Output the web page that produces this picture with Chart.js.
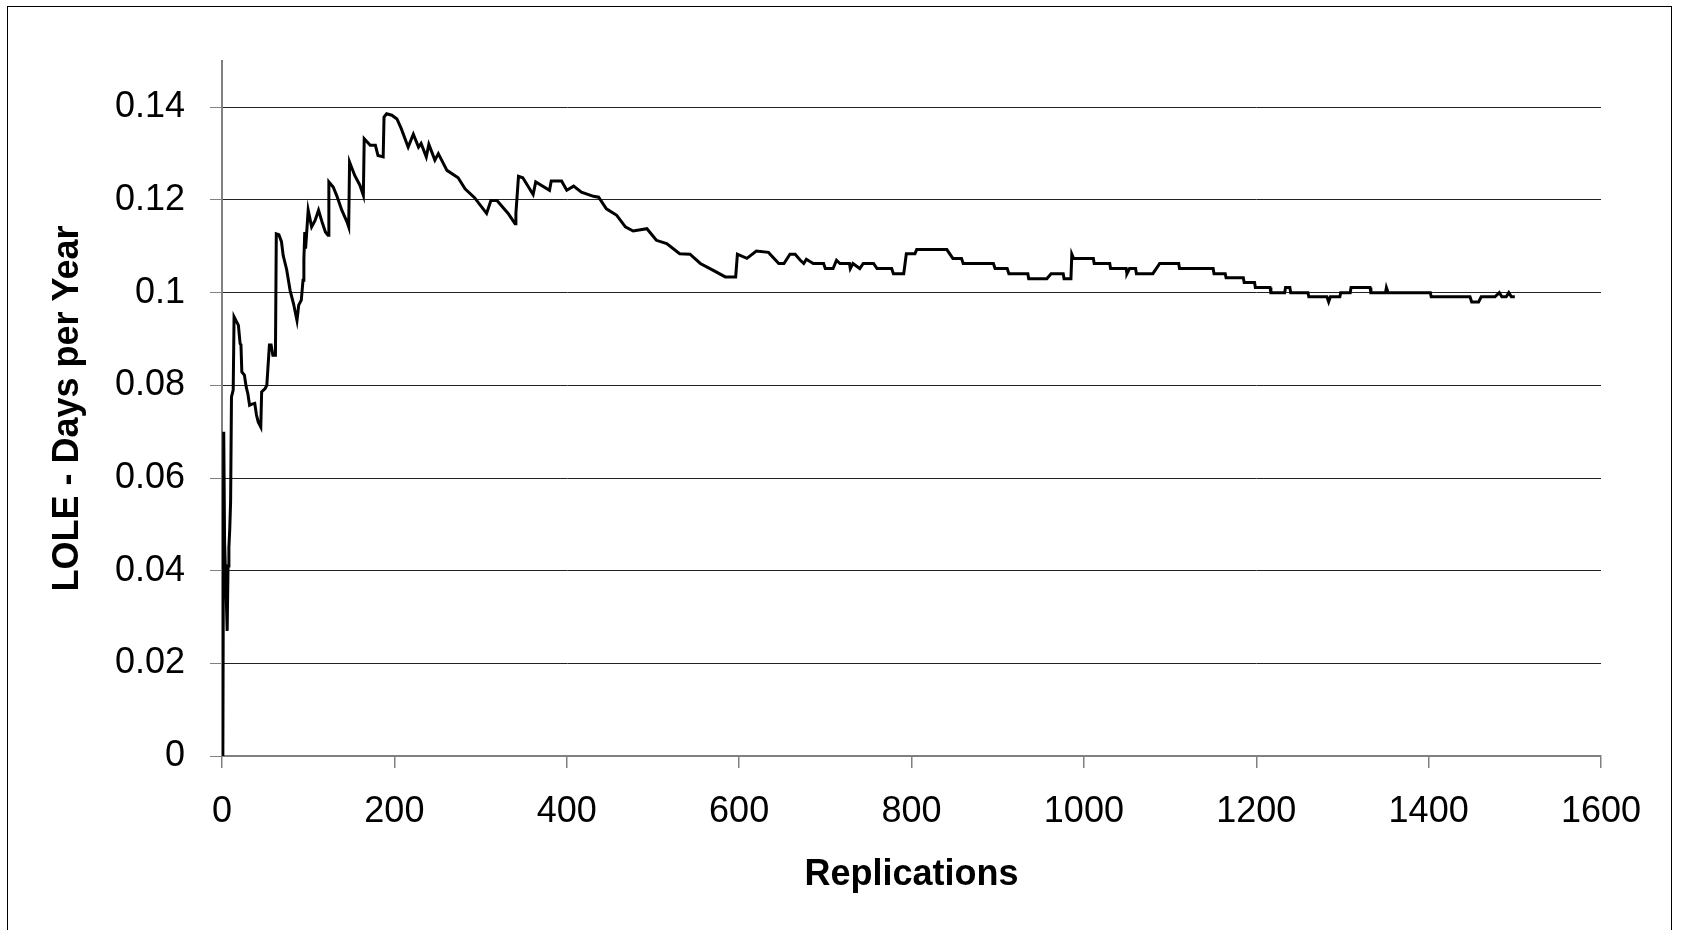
<!DOCTYPE html>
<html>
<head>
<meta charset="utf-8">
<script src="https://cdn.jsdelivr.net/npm/chart.js@4"></script>
<style>
  body { margin: 0; background: #fff; overflow: hidden; }
  #wrap { position: relative; width: 1684px; height: 930px; }
  #frame {
    position: absolute; left: 7px; top: 6px; width: 1665px; height: 1000px;
    border: 1.5px solid #000; box-sizing: border-box; pointer-events: none;
  }
</style>
</head>
<body>
<div id="wrap">
  <canvas id="lole-chart" width="1684" height="930"></canvas>
  <div id="frame"></div>
</div>
<script>
// running LOLE estimate, by replication number
const replications = [
  1, 2, 3, 4, 5, 6, 7, 8, 9, 10, 11, 13, 14, 17, 19, 21, 22, 23, 26, 28,
  30, 32, 34, 38, 40, 42, 45, 46, 50, 52, 55, 57, 59, 62, 63, 66, 69, 71, 75, 79,
  83, 87, 89, 92, 94, 95, 96, 97, 100, 104, 108, 112, 116, 120, 123, 124, 129, 133, 139, 145,
  147, 148, 154, 160, 164, 165, 172, 178, 181, 187, 188, 191, 197, 203, 208, 216, 222, 228, 231, 237,
  240, 247, 251, 261, 274, 282, 293, 307, 312, 319, 332, 340, 341, 344, 349, 361, 364, 380, 382, 394,
  400, 408, 417, 431, 437, 446, 458, 468, 477, 493, 504, 516, 531, 543, 555, 570, 584, 596, 598, 609,
  620, 634, 646, 652, 659, 665, 671, 675, 678, 686, 698, 700, 709, 713, 717, 728, 729, 732, 740, 744,
  756, 760, 777, 779, 791, 794, 804, 806, 841, 848, 858, 860, 870, 872, 895, 897, 911, 913, 935, 936,
  957, 962, 976, 977, 985, 986, 988, 1011, 1012, 1030, 1031, 1049, 1050, 1053, 1060, 1061, 1080, 1084, 1088, 1110,
  1111, 1150, 1151, 1164, 1165, 1185, 1186, 1198, 1199, 1216, 1217, 1233, 1234, 1239, 1240, 1260, 1261, 1282, 1284, 1286,
  1297, 1298, 1309, 1310, 1332, 1333, 1350, 1351, 1353, 1402, 1403, 1448, 1450, 1458, 1461, 1477, 1482, 1485, 1490, 1493,
  1496, 1500
];
const loleValues = [
  0, 0.070, 0.046, 0.040, 0.034, 0.027, 0.041, 0.045, 0.049, 0.055, 0.0775, 0.079, 0.0948, 0.0937, 0.093, 0.089, 0.0887, 0.0829, 0.0822, 0.0797,
  0.0782, 0.0757, 0.0759, 0.0761, 0.0736, 0.0721, 0.071, 0.0786, 0.0793, 0.080, 0.0887, 0.0887, 0.0865, 0.0865, 0.1127, 0.1125, 0.111, 0.108, 0.105, 0.1005,
  0.0976, 0.094, 0.0973, 0.0984, 0.1027, 0.107, 0.1131, 0.1095, 0.1178, 0.1142, 0.1156, 0.1178, 0.1153, 0.1131, 0.1124, 0.1239, 0.1228, 0.121, 0.1178, 0.1153,
  0.1142, 0.1282, 0.1253, 0.1232, 0.121, 0.1332, 0.1318, 0.1318, 0.1296, 0.1293, 0.1379, 0.1386, 0.1383, 0.1375, 0.1354, 0.1314, 0.1342, 0.1314, 0.1322, 0.1293,
  0.132, 0.1286, 0.130, 0.1264, 0.1248, 0.1224, 0.1205, 0.1171, 0.1199, 0.1199, 0.1171, 0.1149, 0.1171, 0.1251, 0.1248, 0.1212, 0.1239, 0.1221, 0.1241, 0.1241,
  0.1221, 0.123, 0.1217, 0.1208, 0.1206, 0.1181, 0.1167, 0.1142, 0.1133, 0.1138, 0.1113, 0.1106, 0.1084, 0.1083, 0.1063, 0.1048, 0.1034, 0.1034, 0.1083, 0.1074,
  0.109, 0.1087, 0.1063, 0.1063, 0.1083, 0.1083, 0.107, 0.1063, 0.1072, 0.1063, 0.1063, 0.1052, 0.1052, 0.107, 0.1063, 0.1063, 0.1052, 0.1063, 0.1052, 0.1063,
  0.1063, 0.1052, 0.1052, 0.1041, 0.1041, 0.1084, 0.1084, 0.1093, 0.1093, 0.1074, 0.1074, 0.1063, 0.1063, 0.1063, 0.1063, 0.1052, 0.1052, 0.1041, 0.1041, 0.103,
  0.103, 0.1041, 0.1041, 0.103, 0.103, 0.1083, 0.1074, 0.1074, 0.1063, 0.1063, 0.1052, 0.1052, 0.1041, 0.1052, 0.1052, 0.1041, 0.1041, 0.1052, 0.1063, 0.1063,
  0.1052, 0.1052, 0.1041, 0.1041, 0.1032, 0.1032, 0.1022, 0.1022, 0.1011, 0.1011, 0.1, 0.1, 0.1011, 0.1011, 0.1, 0.1, 0.0991, 0.0991, 0.098, 0.0991,
  0.0991, 0.1, 0.1, 0.1011, 0.1011, 0.1, 0.1, 0.1011, 0.1, 0.1, 0.0991, 0.0991, 0.098, 0.098, 0.0991, 0.0991, 0.1, 0.0991, 0.0991, 0.1,
  0.0991, 0.0991
];

const yTickValues = [0, 0.02, 0.04, 0.06, 0.08, 0.1, 0.12, 0.14];
const xTickValues = [0, 200, 400, 600, 800, 1000, 1200, 1400, 1600];

const axisFont = { family: '"Liberation Sans", Arial, sans-serif', size: 36 };
const titleFont = { family: '"Liberation Sans", Arial, sans-serif', size: 36, weight: 'bold' };

function buildPoints() {
  return replications.map((r, i) => ({ x: r, y: loleValues[i] }));
}

const ctx = document.getElementById('lole-chart').getContext('2d');

new Chart(ctx, {
  type: 'line',
  data: {
    datasets: [{
      data: buildPoints(),
      borderColor: '#000',
      borderWidth: 3,
      pointRadius: 0,
      tension: 0,
      fill: false,
    }],
  },
  options: {
    responsive: false,
    animation: false,
    layout: { padding: { top: 61, right: 83, left: 0, bottom: 0 } },
    plugins: { legend: { display: false }, tooltip: { enabled: false } },
    scales: {
      x: {
        type: 'linear',
        min: 0,
        max: 1600,
        afterFit: (s) => { s.height = 174; },
        afterBuildTicks: (s) => { s.ticks = xTickValues.map((v) => ({ value: v })); },
        border: { color: '#808080', width: 2 },
        grid: { drawOnChartArea: false, drawTicks: true, tickLength: 12, color: '#808080', lineWidth: 1.5 },
        ticks: { font: axisFont, color: '#000', padding: 22, maxRotation: 0, callback: (v) => String(v) },
        title: { display: true, text: 'Replications', font: titleFont, color: '#000', padding: { top: 0, bottom: 33 } },
      },
      y: {
        min: 0,
        max: 0.15,
        afterFit: (s) => { s.width = 222; },
        afterBuildTicks: (s) => { s.ticks = yTickValues.map((v) => ({ value: v })); },
        border: { color: '#808080', width: 2 },
        grid: { color: '#222', lineWidth: 1, tickLength: 12, tickColor: '#808080' },
        ticks: { font: axisFont, color: '#000', padding: 25, callback: (v) => String(Math.round(v * 100) / 100) },
        title: { display: true, text: 'LOLE - Days per Year', font: titleFont, color: '#000', padding: { top: 46, bottom: 0 } },
      },
    },
  },
});
</script>
</body>
</html>
